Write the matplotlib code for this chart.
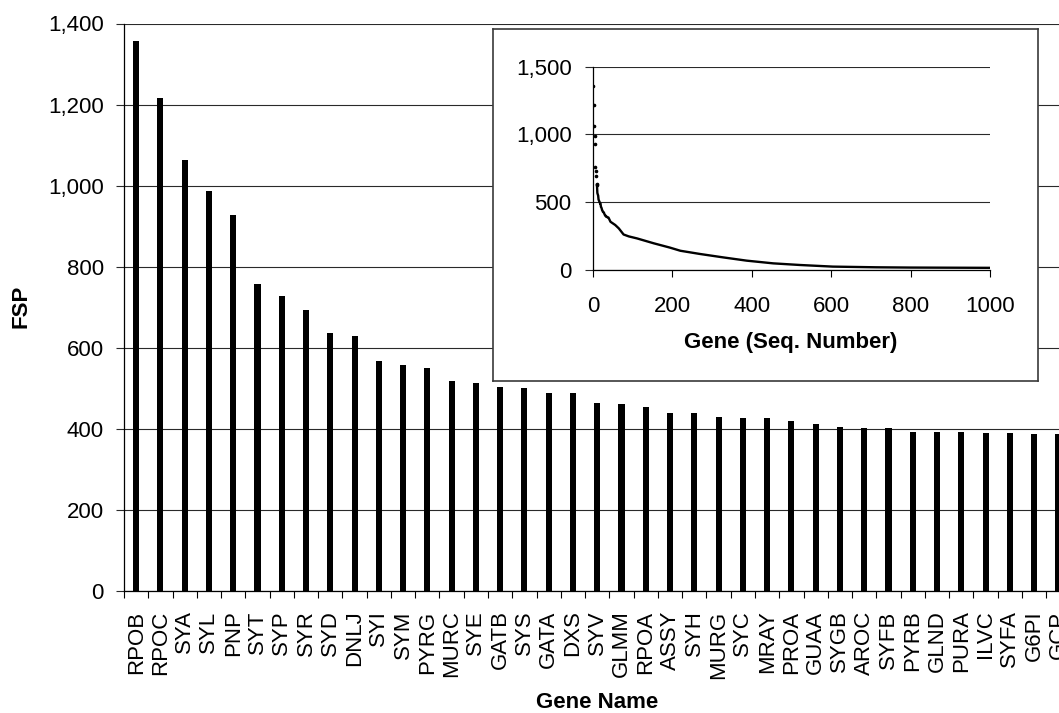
import numpy as np
import matplotlib
matplotlib.use("Agg")
import matplotlib.pyplot as plt
from matplotlib.ticker import FuncFormatter

plt.rcParams['font.family'] = ['Liberation Sans', 'DejaVu Sans']

# Top genes ranked by FSP
genes = ["RPOB", "RPOC", "SYA", "SYL", "PNP", "SYT", "SYP", "SYR", "SYD", "DNLJ",
         "SYI", "SYM", "PYRG", "MURC", "SYE", "GATB", "SYS", "GATA", "DXS", "SYV",
         "GLMM", "RPOA", "ASSY", "SYH", "MURG", "SYC", "MRAY", "PROA", "GUAA", "SYGB",
         "AROC", "SYFB", "PYRB", "GLND", "PURA", "ILVC", "SYFA", "G6PI", "GCP"]
fsp = [1356, 1215, 1064, 986, 928, 757, 728, 694, 636, 628,
       568, 558, 549, 519, 513, 504, 500, 489, 489, 465,
       462, 453, 440, 438, 429, 426, 426, 420, 411, 405,
       401, 401, 393, 393, 393, 389, 389, 387, 387]

# Full ranking (sequence number vs FSP) for the inset
tail_seq = [44, 56, 65, 77, 90, 111, 153, 194, 220, 245, 270, 328, 387,
            454, 521, 604, 713, 800, 897, 1000]
tail_fsp = [356, 332, 307, 262, 248, 233, 197, 165, 142, 130, 118, 93, 69,
            49, 37, 25, 20, 18, 17, 16]

main_yticks = [0, 200, 400, 600, 800, 1000, 1200, 1400]
inset_yticks = [0, 500, 1000, 1500]
inset_xticks = [0, 200, 400, 600, 800, 1000]

W, H = 1059, 713
fig = plt.figure(figsize=(W / 100, H / 100), dpi=100)


def fig_rect(x0, y0, x1, y1):
    """Pixel box (top-left origin) -> figure fraction rect."""
    return [x0 / W, 1 - y1 / H, (x1 - x0) / W, (y1 - y0) / H]


grid_c = "#2a2a2a"

# ---- main bar chart ----
ax = fig.add_axes(fig_rect(124, 23.5, 1070.5, 591))
n = len(genes)
x = np.arange(n)
ax.bar(x, fsp, width=0.25, color="black", zorder=3)
ax.set_xlim(-0.5, n - 0.5)
ax.set_ylim(0, 1400)
ax.set_yticks(main_yticks)
ax.yaxis.set_major_formatter(FuncFormatter(lambda v, p: f"{int(v):,}"))
ax.set_xticks(x)
ax.set_xticklabels(genes, rotation=90, va="top", ha="center")
ax.set_xticks(np.arange(n + 1) - 0.5, minor=True)
ax.tick_params(axis="x", which="major", length=0, pad=14, labelsize=16)
ax.tick_params(axis="x", which="minor", length=5, width=0.8, color="black", direction="out")
ax.tick_params(axis="y", which="major", length=6, width=0.8, pad=8.4, labelsize=16,
               color=grid_c)
ax.grid(axis="y", color=grid_c, linewidth=0.8)
ax.set_axisbelow(True)
for s in ("top", "right"):
    ax.spines[s].set_visible(False)
for s in ("left", "bottom"):
    ax.spines[s].set_color("black")
    ax.spines[s].set_linewidth(0.9)

fig.text(21 / W, 1 - 306.7 / H, "FSP", rotation=90, fontsize=16, fontweight="bold",
         ha="center", va="center")
fig.text(596.7 / W, 1 - 702.5 / H, "Gene Name", fontsize=16, fontweight="bold",
         ha="center", va="center")

# ---- inset frame ----
frame = fig.add_axes(fig_rect(492.5, 28.5, 1038, 381), zorder=5)
frame.set_facecolor("white")
frame.set_xticks([])
frame.set_yticks([])
for s in frame.spines.values():
    s.set_color("#3a3a3a")
    s.set_linewidth(1.2)

# ---- inset curve ----
axi = fig.add_axes(fig_rect(593, 66.7, 990, 270), zorder=6)
axi.set_facecolor("none")
seq = list(range(1, n + 1)) + tail_seq
vals = fsp + tail_fsp
head = 10
axi.plot(seq[:head], vals[:head], linestyle="none", marker="o", markersize=1.6,
         color="black", zorder=4)
axi.plot(seq[head - 1:], vals[head - 1:], color="black", linewidth=1.7, zorder=4,
         solid_joinstyle="round")
axi.set_xlim(0, 1000)
axi.set_ylim(0, 1500)
axi.set_yticks(inset_yticks)
axi.yaxis.set_major_formatter(FuncFormatter(lambda v, p: f"{int(v):,}"))
axi.set_xticks(inset_xticks)
axi.set_xticklabels([str(t) for t in inset_xticks])
axi.tick_params(axis="y", length=5.8, width=0.8, pad=9.6, labelsize=16, color=grid_c)
axi.tick_params(axis="x", length=5, width=0.8, pad=14, labelsize=16, color="black")
axi.grid(axis="y", color=grid_c, linewidth=0.8)
axi.set_axisbelow(True)
for s in ("top", "right"):
    axi.spines[s].set_visible(False)
for s in ("left", "bottom"):
    axi.spines[s].set_color("black")
    axi.spines[s].set_linewidth(0.9)

fig.text(791 / W, 1 - 343 / H, "Gene (Seq. Number)", fontsize=16, fontweight="bold",
         ha="center", va="center", zorder=7)

fig.savefig("out.png", dpi=100)
